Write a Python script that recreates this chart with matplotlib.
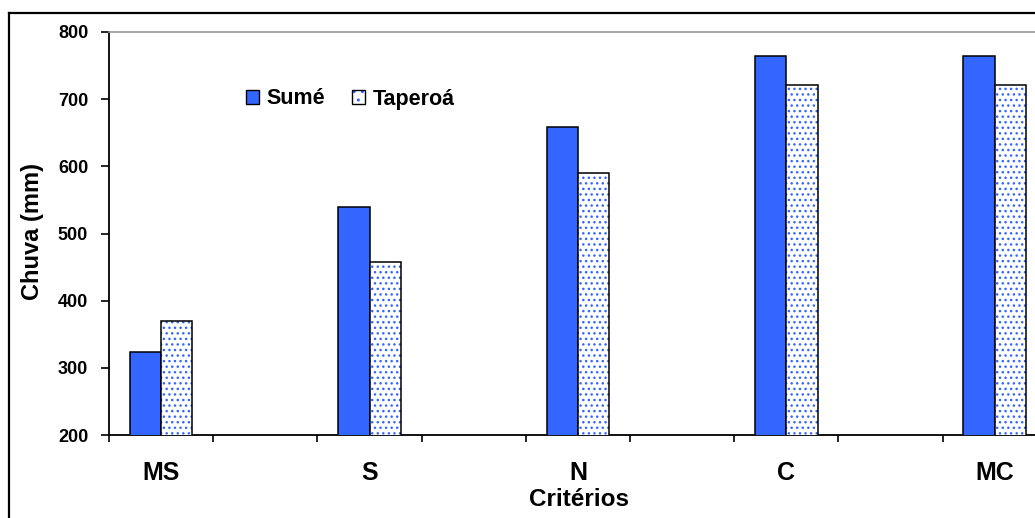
import matplotlib
matplotlib.use("Agg")
import matplotlib.pyplot as plt
from matplotlib.lines import Line2D
from matplotlib.patches import Patch
from matplotlib.legend_handler import HandlerTuple
import numpy as np

# Rainfall (mm) per criterion for the two stations
categories = ["MS", "S", "N", "C", "MC"]
sume = [323, 540, 658, 765, 765]
taperoa = [370, 458, 590, 721, 721]
series_names = ["Sumé", "Taperoá"]
yticks = [200, 300, 400, 500, 600, 700, 800]

BLUE = "#3366FF"
plt.rcParams["font.family"] = ["Liberation Sans", "DejaVu Sans"]
plt.rcParams["font.weight"] = "bold"
plt.rcParams["hatch.linewidth"] = 1.0

W, H = 1035, 518
fig = plt.figure(figsize=(W / 100, H / 100), dpi=100)

# plot area runs past the right edge of the canvas
ax = fig.add_axes([109 / W, 83 / H, 1042 / W, 403 / H])

# each labelled criterion sits in every other slot along the axis
n_slots = 2 * len(categories)
pos = np.arange(len(categories)) * 2
bw = 0.3

ax.bar(pos - bw / 2, sume, width=bw, color=BLUE,
       edgecolor="black", linewidth=1.1, zorder=3)
ax.bar(pos + bw / 2, taperoa, width=bw, color="white", edgecolor=BLUE,
       hatch="...", linewidth=0, zorder=3)
ax.bar(pos + bw / 2, taperoa, width=bw, facecolor="none",
       edgecolor="black", linewidth=1.1, zorder=4)

ax.set_xlim(-0.5, n_slots - 0.5)
ax.set_ylim(200, 800)
ax.set_yticks(yticks)
ax.set_yticklabels([str(v) for v in yticks], fontsize=13, fontweight="bold")
ax.tick_params(axis="y", direction="out", length=6, width=1.2, pad=9)

# slot boundaries as tick marks, criterion names centred under the bars
ax.set_xticks(np.arange(n_slots + 1) - 0.5)
ax.set_xticklabels([])
ax.tick_params(axis="x", which="major", direction="out", length=5, width=1.2)
ax.set_xticks(pos, minor=True)
ax.set_xticklabels(categories, minor=True, fontsize=18, fontweight="bold")
ax.tick_params(axis="x", which="minor", length=0, pad=19)

ax.spines["left"].set_linewidth(1.3)
ax.spines["bottom"].set_linewidth(1.3)
ax.spines["top"].set_color("#999999")
ax.spines["top"].set_linewidth(1.2)
ax.spines["right"].set_visible(False)

fig.text(32 / W, 1 - 231 / H, "Chuva (mm)", rotation=90, ha="center",
         va="center", fontsize=17, fontweight="bold")
fig.text(579 / W, 1 - 500 / H, "Critérios", ha="center", va="center",
         fontsize=17.5, fontweight="bold")

handles = [
    Patch(facecolor=BLUE, edgecolor="black", linewidth=1.0),
    (Patch(facecolor="white", edgecolor=BLUE, hatch="..", linewidth=0),
     Patch(facecolor="none", edgecolor="black", linewidth=1.0)),
]
leg = fig.legend(handles, series_names, loc="center left",
                 bbox_to_anchor=(246 / W, 1 - 99 / H), ncol=2, frameon=False,
                 borderpad=0, borderaxespad=0, handlelength=0.6,
                 handleheight=0.6, handletextpad=0.35, columnspacing=1.25,
                 handler_map={tuple: HandlerTuple(ndivide=1, pad=0)},
                 prop={"size": 15.5, "weight": "bold"})

# outer chart border (left and top edges)
fig.add_artist(Line2D([9 / W, 9 / W], [0, 1 - 13 / H], color="black",
                      linewidth=1.6, transform=fig.transFigure))
fig.add_artist(Line2D([9 / W, 1.0], [1 - 13 / H, 1 - 13 / H], color="black",
                      linewidth=1.6, transform=fig.transFigure))

fig.savefig("out.png", dpi=100)
